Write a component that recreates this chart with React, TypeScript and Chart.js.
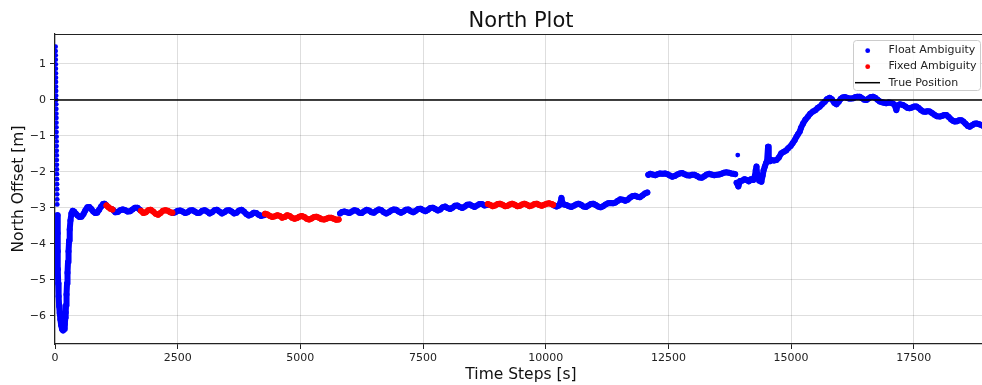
import React, { useEffect, useRef } from "react";
import { Chart, registerables } from "chart.js";

Chart.register(...registerables);

const TITLE = "North Plot";
const X_LABEL = "Time Steps [s]";
const Y_LABEL = "North Offset [m]";
const LEGEND_LABELS = ["Float Ambiguity", "Fixed Ambiguity", "True Position"];

const X_MIN = 0;
const X_MAX = 18890;
const Y_MIN = -6.778;
const Y_MAX = 1.833;
const X_TICKS = [0, 2500, 5000, 7500, 10000, 12500, 15000, 17500];
const Y_TICKS = [-6, -5, -4, -3, -2, -1, 0, 1];
const TRUE_POSITION = 0;

// sparse float points (drawn as separate dots)
const floatSparseT = [12, 13, 14, 15, 16, 17, 18, 19, 20, 21, 22, 23, 24, 25, 26, 27, 28, 29, 30, 31, 32, 33, 34, 35, 36, 37, 38, 39, 40, 41, 42, 43, 44, 45, 46, 13913];
const floatSparseY = [1.48, 1.36, 1.24, 1.12, 0.99, 0.87, 0.74, 0.62, 0.5, 0.37, 0.25, 0.12, 0.0, -0.12, -0.25, -0.38, -0.5, -0.63, -0.76, -0.89, -1.02, -1.15, -1.28, -1.41, -1.54, -1.67, -1.8, -1.93, -2.06, -2.2, -2.34, -2.48, -2.62, -2.76, -2.9, -1.53];

// float ambiguity segments [time, offset]
const floatSegA: [number, number][] = [
  [48, -3.2], [52, -3.7], [56, -4.2], [60, -4.7], [66, -5.1], [74, -5.45], [84, -5.72], [96, -5.92], [110, -6.1],
  [126, -6.26], [145, -6.37], [165, -6.4], [185, -6.36], [200, -6.22], [210, -6.05], [218, -5.9], [226, -5.7],
  [235, -5.4], [245, -5.1], [255, -4.8], [265, -4.5], [276, -4.2], [288, -3.9], [300, -3.6], [315, -3.35],
  [335, -3.15], [360, -3.08], [390, -3.1], [420, -3.15], [460, -3.21], [500, -3.25], [540, -3.24], [580, -3.17],
  [620, -3.06], [660, -2.98], [700, -2.97], [740, -3.03], [780, -3.1], [820, -3.14], [860, -3.13], [900, -3.05],
  [940, -2.96], [980, -2.89], [1010, -2.88], [1040, -2.92],
];
const floatSegB: [number, number][] = [
  [1180, -3.05], [1230, -3.12], [1280, -3.11], [1330, -3.06], [1380, -3.04], [1430, -3.06], [1480, -3.1],
  [1530, -3.09], [1580, -3.04], [1630, -2.99], [1680, -2.99], [1730, -3.05],
];
const floatSegC: [number, number][] = [
  [2400, -3.14], [2450, -3.12], [2500, -3.08], [2550, -3.07], [2600, -3.1], [2650, -3.14], [2700, -3.12],
  [2750, -3.07], [2800, -3.06], [2850, -3.1], [2900, -3.14], [2950, -3.13], [3000, -3.08], [3050, -3.06],
  [3100, -3.1], [3150, -3.15], [3200, -3.12], [3250, -3.06], [3300, -3.05], [3350, -3.1], [3400, -3.15],
  [3450, -3.12], [3500, -3.07], [3550, -3.06], [3600, -3.1], [3650, -3.15], [3700, -3.13], [3750, -3.07],
  [3800, -3.05], [3850, -3.1], [3900, -3.17], [3950, -3.21], [4000, -3.18], [4050, -3.13], [4100, -3.14],
  [4150, -3.19], [4200, -3.22], [4260, -3.2],
];
const floatSegD: [number, number][] = [
  [5810, -3.15], [5850, -3.11], [5900, -3.1], [5950, -3.12], [6000, -3.14], [6050, -3.1], [6100, -3.06],
  [6150, -3.08], [6200, -3.13], [6250, -3.14], [6300, -3.09], [6350, -3.05], [6400, -3.07], [6450, -3.12],
  [6500, -3.13], [6550, -3.08], [6600, -3.04], [6650, -3.06], [6700, -3.12], [6750, -3.15], [6800, -3.12],
  [6850, -3.07], [6900, -3.04], [6950, -3.05], [7000, -3.1], [7050, -3.13], [7100, -3.1], [7150, -3.05],
  [7200, -3.04], [7250, -3.09], [7300, -3.12], [7350, -3.08], [7400, -3.03], [7450, -3.02], [7500, -3.06],
  [7550, -3.09], [7600, -3.05], [7650, -3.0], [7700, -2.99], [7750, -3.03], [7800, -3.07], [7850, -3.04],
  [7900, -2.98], [7950, -2.96], [8000, -3.0], [8050, -3.03], [8100, -2.99], [8150, -2.94], [8200, -2.93],
  [8250, -2.97], [8300, -3.0], [8350, -2.96], [8400, -2.91], [8450, -2.9], [8500, -2.94], [8550, -2.97],
  [8600, -2.93], [8650, -2.89], [8700, -2.89], [8750, -2.93], [8800, -2.92],
];
const floatSegE: [number, number][] = [
  [10170, -2.93], [10220, -2.96], [10270, -2.93], [10300, -2.85], [10320, -2.72], [10340, -2.85], [10370, -2.9],
  [10420, -2.92], [10470, -2.95], [10520, -2.97], [10570, -2.94], [10620, -2.9], [10670, -2.88], [10720, -2.91],
  [10770, -2.96], [10820, -2.97], [10870, -2.93], [10920, -2.89], [10970, -2.88], [11020, -2.92], [11070, -2.96],
  [11120, -2.98], [11170, -2.95], [11220, -2.9], [11270, -2.87], [11320, -2.86], [11370, -2.87], [11420, -2.85],
  [11470, -2.8], [11520, -2.76], [11570, -2.77], [11620, -2.8], [11670, -2.77], [11720, -2.71], [11770, -2.67],
  [11820, -2.66], [11870, -2.69], [11920, -2.7], [11970, -2.65], [12020, -2.6], [12070, -2.57],
];
const floatSegF: [number, number][] = [
  [12090, -2.08], [12130, -2.05], [12180, -2.07], [12230, -2.09], [12280, -2.06], [12330, -2.04], [12380, -2.05],
  [12430, -2.04], [12480, -2.06], [12530, -2.1], [12580, -2.13], [12630, -2.11], [12680, -2.07], [12730, -2.04],
  [12780, -2.03], [12830, -2.06], [12880, -2.09], [12930, -2.1], [12980, -2.08], [13030, -2.08], [13080, -2.11],
  [13130, -2.15], [13180, -2.16], [13230, -2.12], [13280, -2.07], [13330, -2.05], [13380, -2.07], [13430, -2.09],
  [13480, -2.08], [13530, -2.07], [13580, -2.05], [13630, -2.02], [13680, -2.01], [13730, -2.02], [13780, -2.04],
  [13830, -2.05], [13860, -2.06],
];
const floatSegG: [number, number][] = [
  [13890, -2.3], [13925, -2.4], [13960, -2.25], [14000, -2.24], [14050, -2.2], [14090, -2.22], [14140, -2.26],
  [14180, -2.2], [14230, -2.22], [14260, -2.12], [14280, -1.95], [14295, -1.85], [14310, -2.1], [14350, -2.24],
  [14395, -2.27], [14420, -2.1], [14440, -1.95], [14465, -1.85], [14490, -1.75], [14510, -1.7], [14530, -1.3],
  [14545, -1.62], [14570, -1.7], [14600, -1.67], [14650, -1.68], [14700, -1.67], [14750, -1.6], [14800, -1.48],
  [14850, -1.44], [14900, -1.4], [14940, -1.34], [14990, -1.28], [15030, -1.2], [15075, -1.11], [15110, -1.02],
  [15140, -0.95], [15175, -0.88], [15200, -0.78], [15245, -0.65], [15290, -0.55], [15345, -0.46], [15390, -0.38],
  [15445, -0.32], [15500, -0.28], [15540, -0.22], [15580, -0.19], [15630, -0.12], [15685, -0.05], [15730, 0.02],
  [15785, 0.06], [15830, 0.02], [15880, -0.08], [15925, -0.12], [15970, -0.05], [16010, 0.03], [16050, 0.07],
  [16095, 0.08], [16140, 0.06], [16180, 0.04], [16220, 0.04], [16265, 0.05], [16310, 0.08], [16350, 0.09],
  [16400, 0.09], [16445, 0.05], [16490, 0.01], [16535, 0.0], [16580, 0.04], [16625, 0.08], [16670, 0.09],
  [16715, 0.06], [16760, 0.01], [16805, -0.04], [16850, -0.06], [16895, -0.08], [16940, -0.09], [16985, -0.07],
  [17030, -0.08], [17075, -0.1], [17110, -0.14], [17145, -0.28], [17170, -0.15], [17220, -0.12], [17280, -0.14],
  [17330, -0.18], [17375, -0.22], [17415, -0.23], [17460, -0.21], [17510, -0.18], [17555, -0.18], [17600, -0.22],
  [17645, -0.28], [17690, -0.32], [17735, -0.33], [17780, -0.31], [17825, -0.32], [17870, -0.36], [17920, -0.41],
  [17970, -0.45], [18030, -0.46], [18080, -0.44], [18120, -0.42], [18165, -0.42], [18210, -0.47], [18260, -0.54],
  [18300, -0.58], [18335, -0.6], [18380, -0.59], [18425, -0.56], [18470, -0.56], [18510, -0.6], [18555, -0.66],
  [18600, -0.72], [18640, -0.74], [18690, -0.7], [18735, -0.66], [18775, -0.65], [18820, -0.67], [18865, -0.69],
  [18910, -0.72], [18960, -0.74],
];

// fixed ambiguity segments [time, offset]
const fixedSeg1: [number, number][] = [[1050, -2.93], [1090, -2.98], [1130, -3.02], [1170, -3.04]];
const fixedSeg2: [number, number][] = [
  [1750, -3.08], [1800, -3.14], [1850, -3.12], [1900, -3.06], [1950, -3.05], [2000, -3.1], [2050, -3.16],
  [2100, -3.19], [2150, -3.14], [2200, -3.08], [2250, -3.06], [2300, -3.08], [2350, -3.12], [2390, -3.13],
];
const fixedSeg3: [number, number][] = [
  [4280, -3.16], [4330, -3.18], [4380, -3.22], [4430, -3.25], [4480, -3.23], [4530, -3.2], [4580, -3.22],
  [4630, -3.27], [4680, -3.25], [4730, -3.2], [4780, -3.22], [4830, -3.27], [4880, -3.3], [4930, -3.28],
  [4980, -3.24], [5030, -3.22], [5080, -3.25], [5130, -3.3], [5180, -3.32], [5230, -3.29], [5280, -3.25],
  [5330, -3.24], [5380, -3.27], [5430, -3.31], [5480, -3.32], [5530, -3.3], [5580, -3.27], [5630, -3.27],
  [5680, -3.3], [5730, -3.33], [5780, -3.32],
];
const fixedSeg4: [number, number][] = [
  [8820, -2.89], [8870, -2.92], [8920, -2.95], [8970, -2.93], [9020, -2.89], [9070, -2.88], [9120, -2.91],
  [9170, -2.95], [9220, -2.94], [9270, -2.9], [9320, -2.88], [9370, -2.91], [9420, -2.95], [9470, -2.94],
  [9520, -2.9], [9570, -2.88], [9620, -2.91], [9670, -2.95], [9720, -2.93], [9770, -2.89], [9820, -2.88],
  [9870, -2.92], [9920, -2.94], [9970, -2.91], [10020, -2.88], [10070, -2.87], [10120, -2.89], [10150, -2.91],
];

const floatSegments = [floatSegA, floatSegB, floatSegC, floatSegD, floatSegE, floatSegF, floatSegG];
const fixedSegments = [fixedSeg1, fixedSeg2, fixedSeg3, fixedSeg4];

const BLUE = "#0000ff";
const RED = "#ff0000";
const FONT = "'DejaVu Sans', 'Liberation Sans', sans-serif";

function joinSegments(segs: [number, number][][]) {
  const out: { x: number; y: number | null }[] = [];
  segs.forEach((seg, i) => {
    if (i > 0) out.push({ x: seg[0][0], y: null });
    seg.forEach(([t, v]) => out.push({ x: t, y: v }));
  });
  return out;
}

const decorPlugin = {
  id: "decor",
  afterDraw(chart: any) {
    const { ctx, chartArea: a } = chart;
    ctx.save();
    // top spine
    ctx.strokeStyle = "#222";
    ctx.lineWidth = 1.2;
    ctx.beginPath();
    ctx.moveTo(a.left, a.top + 0.5);
    ctx.lineTo(a.right, a.top + 0.5);
    ctx.stroke();

    ctx.fillStyle = "#111";
    ctx.textAlign = "center";
    ctx.textBaseline = "alphabetic";
    ctx.font = `21px ${FONT}`;
    ctx.fillText(TITLE, 521, 27);
    ctx.font = `15.5px ${FONT}`;
    ctx.fillText(X_LABEL, 521, 379);
    ctx.save();
    ctx.translate(23, 189);
    ctx.rotate(-Math.PI / 2);
    ctx.fillText(Y_LABEL, 0, 0);
    ctx.restore();

    // legend
    const bx = 853, by = 40, bw = 127, bh = 50;
    ctx.beginPath();
    (ctx as any).roundRect(bx + 0.5, by + 0.5, bw, bh, 3);
    ctx.fillStyle = "rgba(255,255,255,0.85)";
    ctx.fill();
    ctx.strokeStyle = "#cccccc";
    ctx.lineWidth = 1;
    ctx.stroke();

    ctx.fillStyle = BLUE;
    ctx.beginPath();
    ctx.arc(867.7, 50.7, 2.4, 0, Math.PI * 2);
    ctx.fill();
    ctx.fillStyle = RED;
    ctx.beginPath();
    ctx.arc(867.7, 66.7, 2.4, 0, Math.PI * 2);
    ctx.fill();
    ctx.strokeStyle = "#000";
    ctx.lineWidth = 1.5;
    ctx.beginPath();
    ctx.moveTo(855, 82.7);
    ctx.lineTo(880, 82.7);
    ctx.stroke();

    ctx.fillStyle = "#222";
    ctx.textAlign = "left";
    ctx.font = `11px ${FONT}`;
    ctx.fillText(LEGEND_LABELS[0], 888.5, 53);
    ctx.fillText(LEGEND_LABELS[1], 888.5, 69.3);
    ctx.fillText(LEGEND_LABELS[2], 888.5, 85.6);
    ctx.restore();
  },
};

export default function App() {
  const ref = useRef<HTMLCanvasElement | null>(null);

  useEffect(() => {
    document.body.style.margin = "0";
    if (!ref.current) return;
    const tickFont = { family: FONT, size: 11 };
    const bandStyle = (color: string) => ({
      showLine: true,
      borderColor: color,
      borderWidth: 6,
      borderJoinStyle: "round" as const,
      borderCapStyle: "round" as const,
      pointRadius: 3,
      pointBorderWidth: 0,
      pointBackgroundColor: color,
      clip: 0,
    });
    const chart = new Chart(ref.current, {
      type: "scatter",
      data: {
        datasets: [
          {
            label: LEGEND_LABELS[2],
            data: [
              { x: X_MIN, y: TRUE_POSITION },
              { x: X_MAX, y: TRUE_POSITION },
            ],
            showLine: true,
            borderColor: "#000",
            borderWidth: 1.6,
            pointRadius: 0,
            order: 0,
            clip: 0,
          },
          {
            label: LEGEND_LABELS[1],
            data: joinSegments(fixedSegments),
            ...bandStyle(RED),
            order: 1,
          },
          {
            label: LEGEND_LABELS[0],
            data: joinSegments(floatSegments),
            ...bandStyle(BLUE),
            order: 2,
          },
          {
            label: LEGEND_LABELS[0] + " (sparse)",
            data: floatSparseT.map((t, i) => ({ x: t, y: floatSparseY[i] })),
            showLine: false,
            pointRadius: 2.4,
            pointBorderWidth: 0,
            pointBackgroundColor: BLUE,
            order: 3,
            clip: 0,
          },
        ],
      },
      options: {
        responsive: false,
        animation: false,
        events: [],
        layout: { autoPadding: false, padding: { left: 0, top: 34, right: 0, bottom: 0 } },
        plugins: {
          legend: { display: false },
          title: { display: false },
          tooltip: { enabled: false },
        },
        scales: {
          x: {
            type: "linear",
            min: X_MIN,
            max: X_MAX,
            afterBuildTicks: (s: any) => {
              s.ticks = X_TICKS.map((v) => ({ value: v }));
            },
            ticks: {
              autoSkip: false,
              maxRotation: 0,
              color: "#222",
              font: tickFont,
              padding: 3,
              callback: (v: any) => String(v),
            },
            grid: {
              color: "rgba(0,0,0,0.13)",
              lineWidth: 1,
              tickLength: 5,
              tickColor: "#222",
              tickWidth: 1,
            },
            border: { display: true, color: "#222", width: 1.2 },
            afterFit: (s: any) => {
              s.height = 41;
              s.paddingLeft = 0;
              s.paddingRight = 0;
            },
          },
          y: {
            type: "linear",
            min: Y_MIN,
            max: Y_MAX,
            afterBuildTicks: (s: any) => {
              s.ticks = Y_TICKS.map((v) => ({ value: v }));
            },
            ticks: {
              autoSkip: false,
              color: "#222",
              font: tickFont,
              padding: 4,
              callback: (v: any) => (v < 0 ? "\u2212" + Math.abs(v) : String(v)),
            },
            grid: {
              color: "rgba(0,0,0,0.13)",
              lineWidth: 1,
              tickLength: 5,
              tickColor: "#222",
              tickWidth: 1,
            },
            border: { display: true, color: "#222", width: 1.2 },
            afterFit: (s: any) => {
              s.width = 55;
              s.paddingTop = 0;
              s.paddingBottom = 0;
            },
          },
        },
      },
      plugins: [decorPlugin],
    });
    return () => chart.destroy();
  }, []);

  return (
    <div style={{ width: 982, height: 385, overflow: "hidden", background: "#fff" }}>
      <canvas ref={ref} width={982} height={385} style={{ display: "block" }} />
    </div>
  );
}
